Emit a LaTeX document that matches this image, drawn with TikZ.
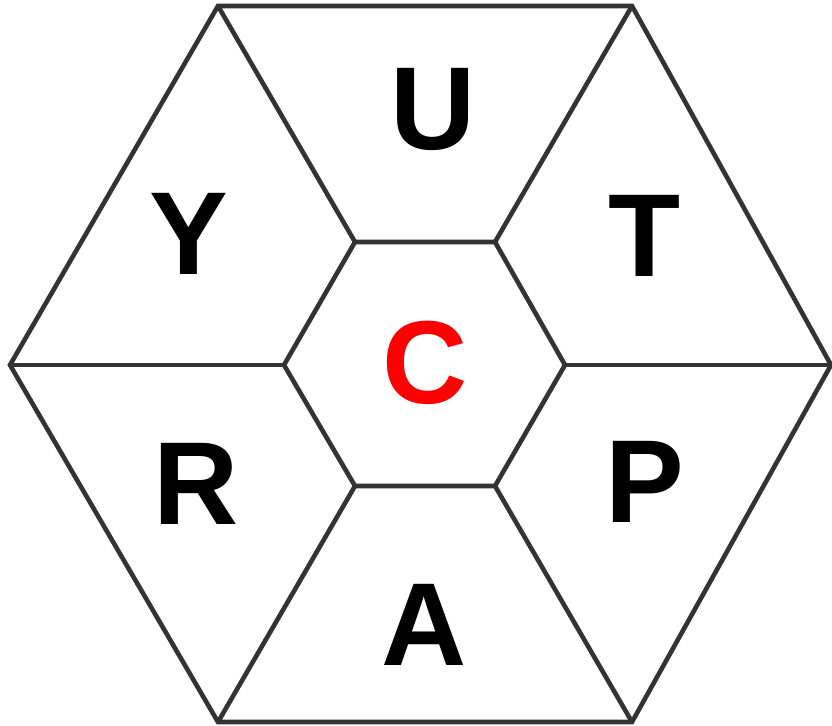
\documentclass[tikz,border=0pt]{standalone}
\usepackage{fontspec}
\setmainfont{Liberation Sans}
\begin{document}
\begin{tikzpicture}[x=0.5pt,y=-0.5pt,
  edge/.style={draw={rgb,255:red,51;green,51;blue,51},line width=2.3pt,line join=miter},
  lett/.style={font=\bfseries\fontsize{59}{59}\selectfont,inner sep=0pt,anchor=center}]
\useasboundingbox (0,0) rectangle (832,726);
% outer vertices
\coordinate (o1) at (218,6);
\coordinate (o2) at (632,6);
\coordinate (o3) at (831,365);
\coordinate (o4) at (632,722);
\coordinate (o5) at (218,722);
\coordinate (o6) at (10,365);
% inner vertices
\coordinate (i1) at (355,242);
\coordinate (i2) at (495,242);
\coordinate (i3) at (565,365);
\coordinate (i4) at (495,486);
\coordinate (i5) at (355,486);
\coordinate (i6) at (284,365);
\draw[edge] (o1) -- (o2) -- (o3) -- (o4) -- (o5) -- (o6) -- cycle;
\draw[edge] (i1) -- (i2) -- (i3) -- (i4) -- (i5) -- (i6) -- cycle;
\draw[edge] (o1) -- (i1);
\draw[edge] (o2) -- (i2);
\draw[edge] (o3) -- (i3);
\draw[edge] (o4) -- (i4);
\draw[edge] (o5) -- (i5);
\draw[edge] (o6) -- (i6);
\node[lett] (U) at (433,109) {U};
\node[lett] (Y) at (189,234) {Y};
\node[lett] (T) at (645,236) {T};
\node[lett,text={rgb,255:red,255;green,0;blue,0}] (C) at (425,363) {C};
\node[lett] (R) at (196,484) {R};
\node[lett] (P) at (645,482) {P};
\node[lett] (A) at (424,625) {A};
\end{tikzpicture}
\end{document}
